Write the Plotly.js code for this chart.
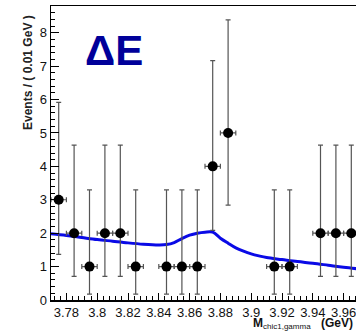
<!DOCTYPE html>
<html>
<head>
<meta charset="utf-8">
<script src="https://cdn.plot.ly/plotly-3.0.1.min.js"></script>
<style>
html,body{margin:0;padding:0;overflow:hidden;background:#fff;width:356px;height:331px;}
#chart{width:364px;height:331px;}
</style>
</head>
<body>
<div id="chart"></div>
<script>
// Bin centres of non-empty bins (GeV) and event counts
const binCenters = [3.775, 3.785, 3.795, 3.805, 3.815, 3.825, 3.845, 3.855, 3.865, 3.875, 3.885, 3.915, 3.925, 3.945, 3.955, 3.965];
const counts     = [3, 2, 1, 2, 2, 1, 1, 1, 1, 4, 5, 1, 1, 2, 2, 2];
// Asymmetric Poisson errors
const errHigh = [2.918, 2.638, 2.299, 2.638, 2.638, 2.299, 2.299, 2.299, 2.299, 3.163, 3.382, 2.299, 2.299, 2.638, 2.638, 2.638];
const errLow  = [1.633, 1.292, 0.827, 1.292, 1.292, 0.827, 0.827, 0.827, 0.827, 1.914, 2.160, 0.827, 0.827, 1.292, 1.292, 1.292];
// Fit curve samples
const fitX = [3.770, 3.780, 3.790, 3.800, 3.810, 3.820, 3.830, 3.840, 3.845, 3.850, 3.855, 3.860, 3.865, 3.870, 3.875, 3.880, 3.885, 3.890, 3.895, 3.900, 3.905, 3.910, 3.920, 3.930, 3.940, 3.950, 3.960, 3.970];
const fitY = [1.98, 1.93, 1.87, 1.81, 1.76, 1.71, 1.67, 1.65, 1.66, 1.72, 1.84, 1.94, 2.00, 2.03, 2.03, 1.85, 1.70, 1.56, 1.46, 1.38, 1.32, 1.27, 1.21, 1.15, 1.10, 1.04, 0.98, 0.93];
const xTicks = [3.78, 3.80, 3.82, 3.84, 3.86, 3.88, 3.90, 3.92, 3.94, 3.96];
const xTickText = ['3.78', '3.8', '3.82', '3.84', '3.86', '3.88', '3.9', '3.92', '3.94', '3.96'];
const yTicks = [0, 1, 2, 3, 4, 5, 6, 7, 8];

const traces = [
  {
    x: fitX, y: fitY, type: 'scatter', mode: 'lines',
    line: {color: '#0a0ae6', width: 3, shape: 'spline'},
    hoverinfo: 'skip'
  },
  {
    x: binCenters, y: counts, type: 'scatter', mode: 'markers',
    marker: {color: '#000', size: 10},
    error_y: {type: 'data', symmetric: false, array: errHigh, arrayminus: errLow, color: '#555', thickness: 1.2, width: 2.5},
    error_x: {type: 'constant', value: 0.005, color: '#555', thickness: 1.2, width: 2.5}
  }
];

const FF = 'Liberation Sans, Arial, sans-serif';
const layout = {
  width: 364, height: 331,
  margin: {l: 51, r: 5, t: 6, b: 31},
  paper_bgcolor: '#fff', plot_bgcolor: '#fff',
  showlegend: false,
  font: {family: FF, color: '#000'},
  xaxis: {
    range: [3.77, 3.97],
    tickvals: xTicks, ticktext: xTickText,
    ticks: 'inside', ticklen: 7, tickcolor: '#000', tickwidth: 1,
    minor: {dtick: 0.004, tick0: 3.78, ticks: 'inside', ticklen: 4, tickcolor: '#000'},
    showline: true, linecolor: '#000', linewidth: 1.5, mirror: true,
    showgrid: false, zeroline: false,
    tickfont: {family: FF, size: 13, color: '#111'}
  },
  yaxis: {
    range: [0, 8.8],
    tickvals: yTicks,
    ticks: 'inside', ticklen: 8, tickcolor: '#000', tickwidth: 1,
    minor: {dtick: 0.2, tick0: 0, ticks: 'inside', ticklen: 4, tickcolor: '#000'},
    showline: true, linecolor: '#000', linewidth: 1.5, mirror: true,
    showgrid: false, zeroline: false,
    tickfont: {family: FF, size: 13, color: '#111'}
  },
  annotations: [
    {text: '<b>ΔE</b>', xref: 'paper', yref: 'paper', x: (114 - 51) / 308, y: (300 - 51) / 294, showarrow: false,
     font: {family: FF, size: 42, color: '#00009a'}, xanchor: 'center', yanchor: 'middle'},
    {text: '<b>Events / ( 0.01 GeV )</b>', xref: 'paper', yref: 'paper', x: (28 - 51) / 308, y: (300 - 73) / 294,
     textangle: -90, showarrow: false, xanchor: 'center', yanchor: 'middle',
     font: {family: FF, size: 12, color: '#222'}},
    {text: '<b>M</b>', xref: 'paper', yref: 'paper', x: (252 - 51) / 308, y: (300 - 323) / 294,
     showarrow: false, xanchor: 'left', yanchor: 'middle', borderpad: 0,
     font: {family: FF, size: 12, color: '#111'}},
    {text: 'chic1,gamma', xref: 'paper', yref: 'paper', x: (262 - 51) / 308, y: (300 - 326.5) / 294,
     showarrow: false, xanchor: 'left', yanchor: 'middle', borderpad: 0,
     font: {family: FF, size: 8, color: '#111'}},
    {text: '<b>(GeV)</b>', xref: 'paper', yref: 'paper', x: (320 - 51) / 308, y: (300 - 323) / 294,
     showarrow: false, xanchor: 'left', yanchor: 'middle', borderpad: 0,
     font: {family: FF, size: 12, color: '#111'}}
  ]
};

Plotly.newPlot('chart', traces, layout, {displayModeBar: false, staticPlot: true});
</script>
</body>
</html>
